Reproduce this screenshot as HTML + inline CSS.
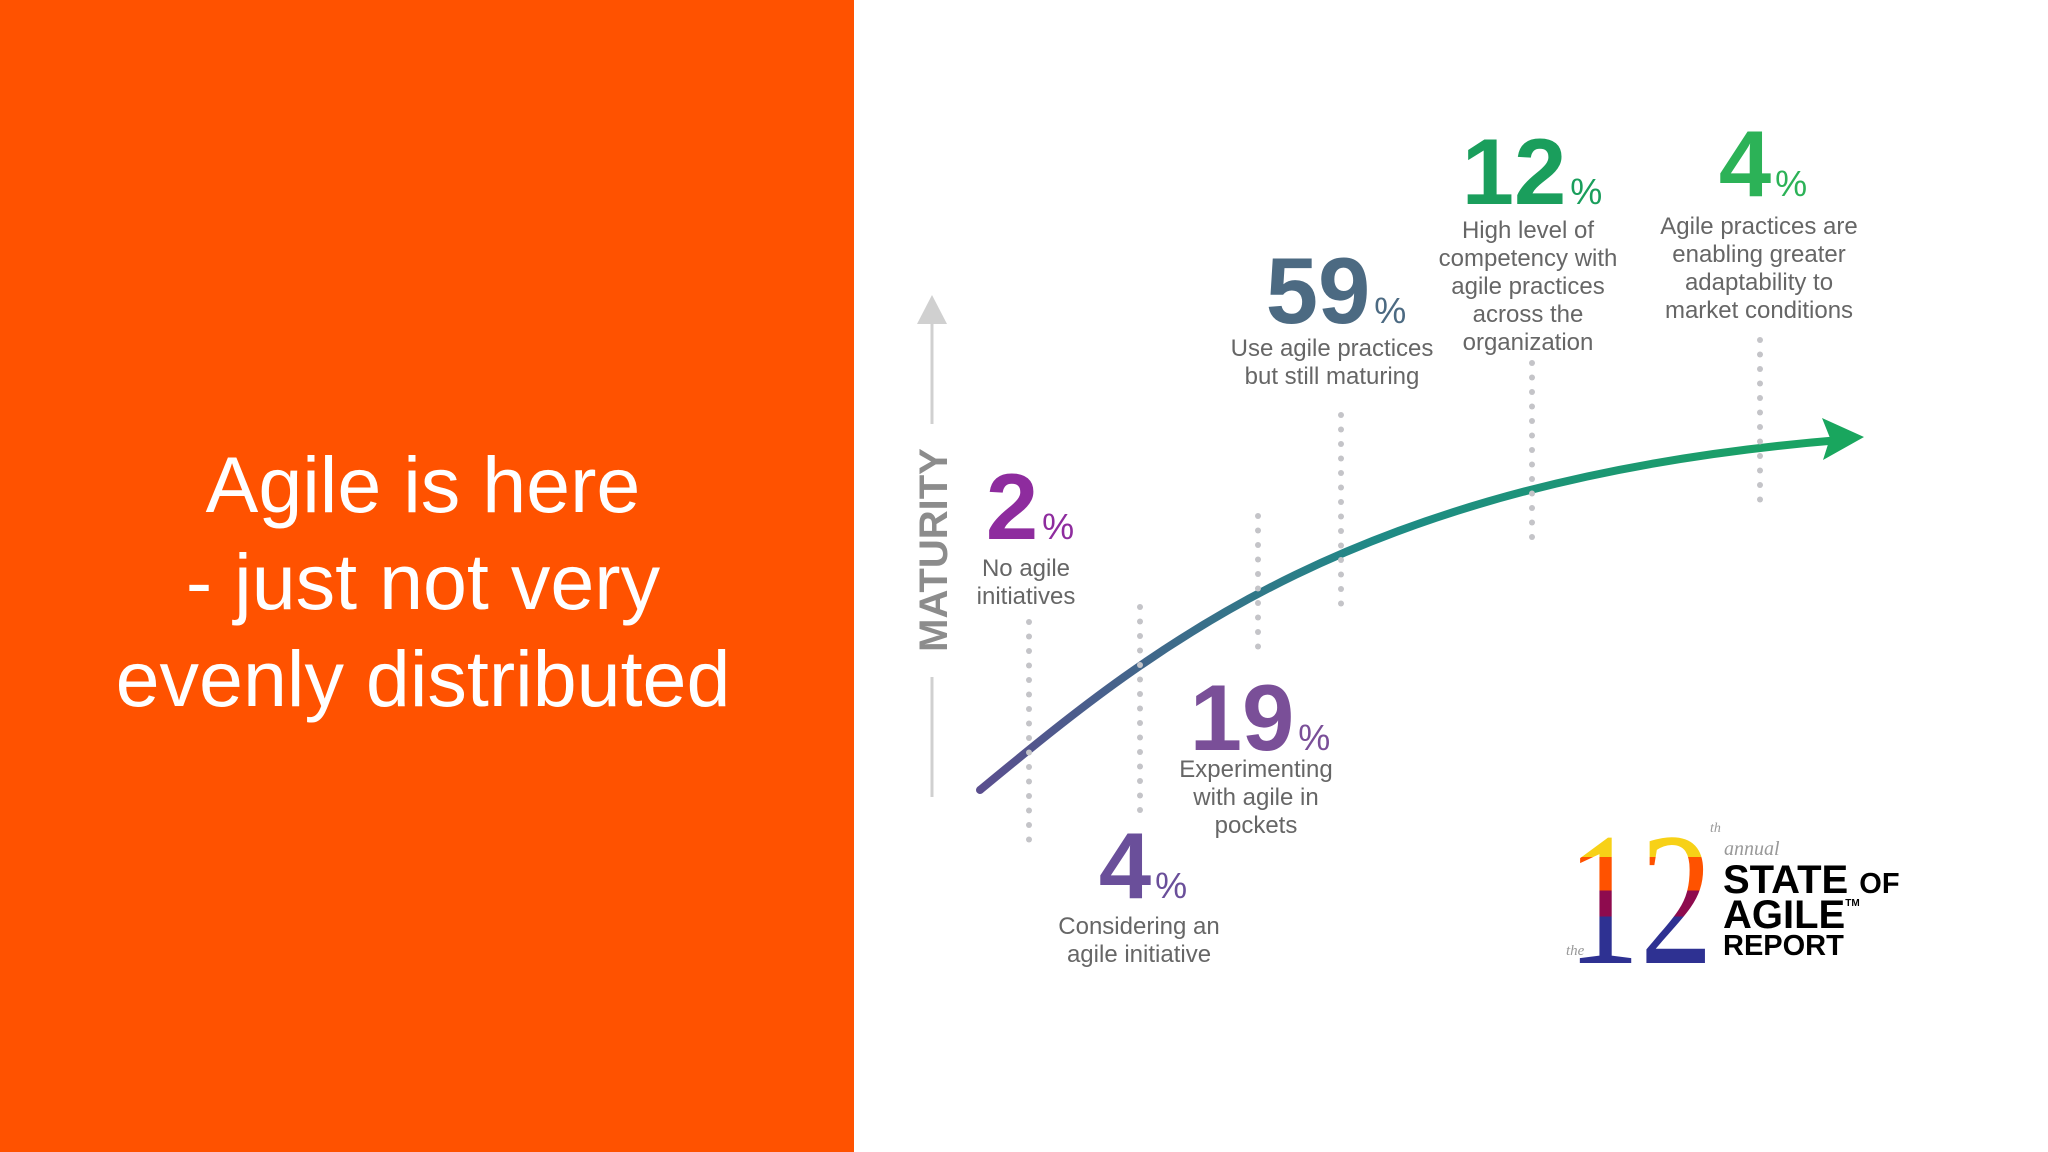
<!DOCTYPE html>
<html><head><meta charset="utf-8"><style>
body{margin:0;width:2048px;height:1152px;overflow:hidden;background:#fff;font-family:"Liberation Sans",sans-serif}
#left{position:absolute;left:0;top:0;width:854px;height:1152px;background:#FF5200}
#title{position:absolute;left:0;width:846px;top:436px;text-align:center;color:#fff;font-size:79px;line-height:97px}
svg{position:absolute;left:0;top:0}
</style></head><body>
<div id="left"></div>
<div id="title">Agile is here<br>- just not very<br>evenly distributed</div>
<svg id="chart" width="2048" height="1152">
<defs>
<linearGradient id="cg" x1="980" y1="0" x2="1861" y2="0" gradientUnits="userSpaceOnUse">
<stop offset="0" stop-color="#5A4E8E"/><stop offset="0.45" stop-color="#1F8A86"/><stop offset="1" stop-color="#19A65E"/></linearGradient>
<linearGradient id="lg" x1="0" y1="818" x2="0" y2="963" gradientUnits="userSpaceOnUse">
<stop offset="0.27" stop-color="#F7D117"/><stop offset="0.27" stop-color="#FF5200"/><stop offset="0.5" stop-color="#FF5200"/><stop offset="0.5" stop-color="#8E0B4E"/><stop offset="0.68" stop-color="#8E0B4E"/><stop offset="0.68" stop-color="#2E3192"/></linearGradient>
</defs>
<g>
<line x1="932" y1="310" x2="932" y2="424" stroke="#d0d0d0" stroke-width="3"/>
<polygon points="932,295 917,324 947,324" fill="#d0d0d0"/>
<line x1="932" y1="677" x2="932" y2="797" stroke="#d0d0d0" stroke-width="3"/>
<text x="947" y="550" transform="rotate(-90 947 550)" text-anchor="middle" font-size="40" font-weight="bold" fill="#8c8c8c">MATURITY</text>
</g>
<path d="M980,790 C1150,650 1350,480 1840,440" fill="none" stroke="url(#cg)" stroke-width="8" stroke-linecap="round"/>
<polygon points="1864,437 1822,418 1830,438 1823,460" fill="#19A65E"/>
<g id="marks"></g>
<g>
<text x="1567" y="963" font-family="Liberation Serif" font-size="190" fill="url(#lg)" textLength="146" lengthAdjust="spacingAndGlyphs">12</text>
<text x="1566" y="955" font-family="Liberation Serif" font-style="italic" font-size="15" fill="#999">the</text>
<text x="1710" y="832" font-family="Liberation Serif" font-style="italic" font-size="14" fill="#999">th</text>
<text x="1724" y="855" font-family="Liberation Serif" font-style="italic" font-size="20" fill="#999">annual</text>
<text x="1723" y="893" font-size="40" font-weight="bold" fill="#000">STATE <tspan font-size="29">OF</tspan></text>
<text x="1723" y="928" font-size="40" font-weight="bold" fill="#000">AGILE<tspan font-size="10" dy="-22">TM</tspan></text>
<text x="1723" y="955" font-size="29" font-weight="bold" fill="#000">REPORT</text>
</g>
</svg>
<script>
const values=["2","4","19","59","12","4"];
const colors=["#8E2C9E","#6A4F9A","#7A4F98","#4C6A82","#1A9E5C","#2CB257"];
const descs=[["No agile","initiatives"],["Considering an","agile initiative"],["Experimenting","with agile in","pockets"],["Use agile practices","but still maturing"],["High level of","competency with","agile practices","across the","organization"],["Agile practices are","enabling greater","adaptability to","market conditions"]];
const cx=[1030,1143,1260,1336,1532,1763];
const numBase=[539,898,750,323,204,196];
const textTop=[576,934,777,356,238,234];
const dotX=[1029,1140,1258,1341,1532,1760];
const dotTop=[622,607,516,415,363,340];
const dotBot=[842,823,660,607,549,507];
const ns="http://www.w3.org/2000/svg";
const g=document.getElementById('marks');
function mk(t,a){const e=document.createElementNS(ns,t);for(const k in a)e.setAttribute(k,a[k]);return e;}
values.forEach((v,i)=>{
  for(let y=dotTop[i];y<=dotBot[i];y+=14.5){
    const c=mk('circle',{cx:dotX[i],cy:y,r:3,fill:'#c4c4c8'});
    
    
    g.appendChild(c);
  }
  const t=mk('text',{x:cx[i],y:numBase[i],'text-anchor':'middle',fill:colors[i],'font-weight':'bold','font-size':94});
  
  
  t.textContent=v;
  const p=mk('tspan',{'font-size':36,'font-weight':'normal',dx:4});
  p.textContent='%';
  t.appendChild(p);
  g.appendChild(t);
  descs[i].forEach((l,j)=>{
    const d=mk('text',{x:cx[i]-4,y:textTop[i]+j*28,'text-anchor':'middle',fill:'#666','font-size':24});
    
    
    d.textContent=l;
    g.appendChild(d);
  });
});
</script>
</body></html>
